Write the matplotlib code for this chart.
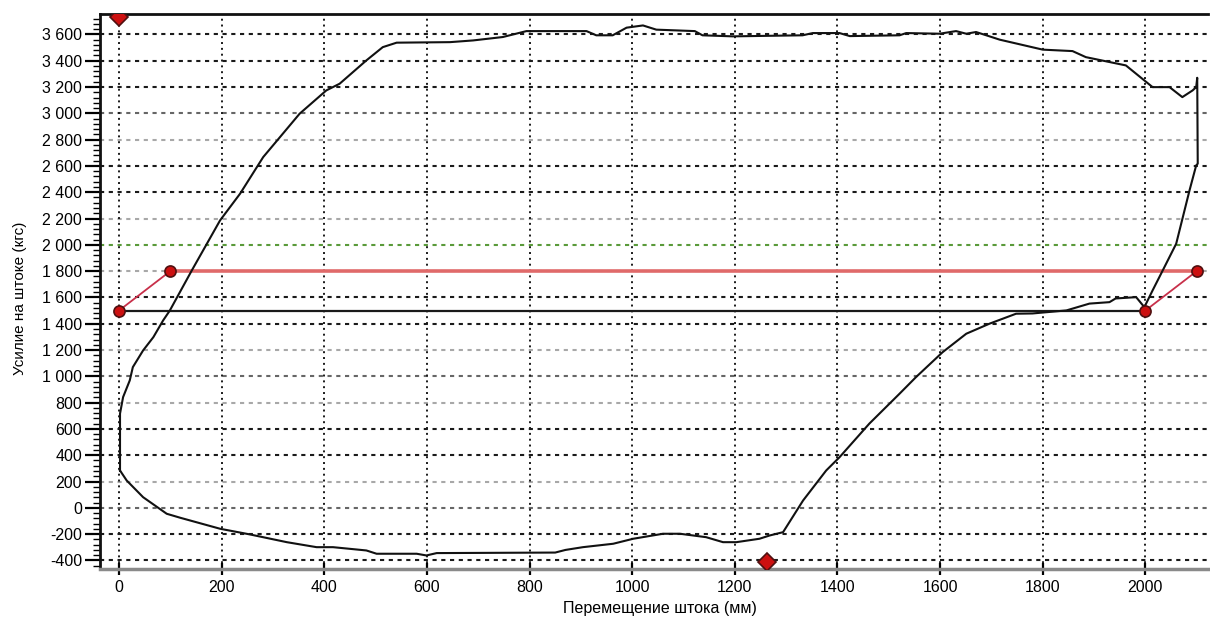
import matplotlib
matplotlib.use('Agg')
import matplotlib.pyplot as plt
from matplotlib.ticker import MultipleLocator, FuncFormatter

plt.rcParams['font.family'] = ['Liberation Sans', 'DejaVu Sans']

# петля: перемещение (мм) / усилие (кгс)
loop_x = [2, 2, 2, 8, 21, 27, 47, 67, 86, 99, 142, 197, 236, 281, 352, 404, 430, 482, 514, 541,
          645, 690, 748, 794, 911, 930, 962, 989, 1021, 1047, 1122, 1137, 1196, 1332, 1352, 1404,
          1424, 1521, 1534, 1599, 1631, 1651, 1670, 1690, 1716, 1800, 1858, 1884, 1962, 2014,
          2047, 2072, 2092, 2099, 2101, 2102, 2099, 2086, 2073, 2060, 2037, 2014, 1998, 1982,
          1942, 1930, 1891, 1846, 1780, 1748, 1696, 1651, 1605, 1553, 1521, 1462, 1404, 1378,
          1333, 1294, 1268, 1248, 1203, 1177, 1144, 1093, 1060, 1002, 963, 904, 870, 850, 619,
          599, 580, 502, 482, 417, 385, 327, 255, 197, 119, 93, 47, 15, 2]
loop_y = [284, 462, 716, 842, 969, 1070, 1197, 1298, 1425, 1500, 1806, 2186, 2389, 2667, 2997,
          3174, 3225, 3402, 3503, 3537, 3541, 3554, 3580, 3625, 3625, 3593, 3593, 3651, 3668,
          3636, 3625, 3593, 3585, 3593, 3610, 3610, 3587, 3593, 3610, 3605, 3625, 3605, 3618,
          3593, 3560, 3484, 3473, 3427, 3364, 3199, 3199, 3123, 3174, 3199, 3270, 2617, 2604,
          2414, 2211, 2008, 1830, 1653, 1526, 1602, 1592, 1564, 1553, 1501, 1478, 1476, 1400,
          1324, 1184, 994, 868, 640, 385, 284, 56, -185, -210, -235, -261, -261, -223, -197,
          -197, -235, -273, -299, -320, -340, -344, -362, -349, -349, -324, -299, -299, -261,
          -202, -159, -75, -45, 81, 208, 284]

# уровни и точки маркеров
black_level = 1500
red_level = 1800
left_pts_x = [0, 100]
left_pts_y = [1500, 1800]
right_pts_x = [2000, 2100]
right_pts_y = [1500, 1800]
extra_x = [0, 1262]
extra_y = [3730, -415]

x_ticks = list(range(0, 2001, 200))
y_ticks = list(range(-400, 3601, 200))
grid_dark = [3600, 3400, 3200, 2600, 2400, 1600, 1400, 600, 400, -200, -400]
grid_mid = [3000, 1000, 0]
grid_light = [2800, 2200, 1800, 1200, 800, 200]
grid_green = [2000]

fig = plt.figure(figsize=(12.1, 6.18), dpi=100)
ax = fig.add_axes([100/1210, 1-569/618, 1108/1210, 555/618])
ax.set_xlim(-37, 2122)
ax.set_ylim(-465, 3755)

dash = (0, (2, 2.2))
for v in grid_dark:
    ax.axhline(v, color='#1a1a1a', lw=1.5, ls=dash, zorder=1)
for v in grid_mid:
    ax.axhline(v, color='#666666', lw=1.5, ls=dash, zorder=1)
for v in grid_light:
    ax.axhline(v, color='#a8a8a8', lw=1.5, ls=dash, zorder=1)
for v in grid_green:
    ax.axhline(v, color='#5a9a3a', lw=1.5, ls=dash, zorder=1)
for v in x_ticks:
    ax.axvline(v, color='#1a1a1a', lw=1.4, ls=(0, (1, 2)), zorder=1)

ax.plot([0, 2000], [black_level, black_level], color='#1a1a1a', lw=1.6, zorder=3)
ax.plot([100, 2100], [red_level, red_level], color='#e06a6a', lw=2.6, zorder=3)
ax.plot(left_pts_x, left_pts_y, color='#c8304a', lw=1.3, zorder=4)
ax.plot(right_pts_x, right_pts_y, color='#c8304a', lw=1.3, zorder=4)

ax.plot(loop_x, loop_y, color='#111111', lw=1.5, zorder=5)

ax.plot(left_pts_x + right_pts_x, left_pts_y + right_pts_y, ls='none', marker='o',
        ms=8, mfc='#cc1010', mec='#501010', mew=1.2, zorder=6)
ax.plot(extra_x, extra_y, ls='none', marker='D', ms=9, mfc='#cc1010', mec='#501010',
        mew=1.2, zorder=6)

ax.set_xticks(x_ticks)
ax.set_yticks(y_ticks)
ax.yaxis.set_minor_locator(MultipleLocator(40))
ax.yaxis.set_major_formatter(FuncFormatter(lambda v, p: f'{int(v):,}'.replace(',', ' ')))
ax.tick_params(axis='y', which='major', length=11, width=1.6, labelsize=11.5, pad=2)
ax.tick_params(axis='y', which='minor', length=5, width=1.0)
ax.tick_params(axis='x', which='major', direction='inout', length=8, width=1.6,
               labelsize=11.5, pad=4)

for s in ['top', 'left']:
    ax.spines[s].set_linewidth(2)
    ax.spines[s].set_color('#111111')
ax.spines['bottom'].set_linewidth(2.5)
ax.spines['bottom'].set_color('#8a8a8a')
ax.spines['right'].set_visible(False)

fig.text(20/1210, 1-298/618, 'Усилие на штоке (кгс)', rotation=90, ha='center',
         va='center', fontsize=11)
fig.text(660/1210, 1-609/618, 'Перемещение штока (мм)', ha='center', va='center',
         fontsize=11.5)

fig.savefig('out.png', dpi=100)
